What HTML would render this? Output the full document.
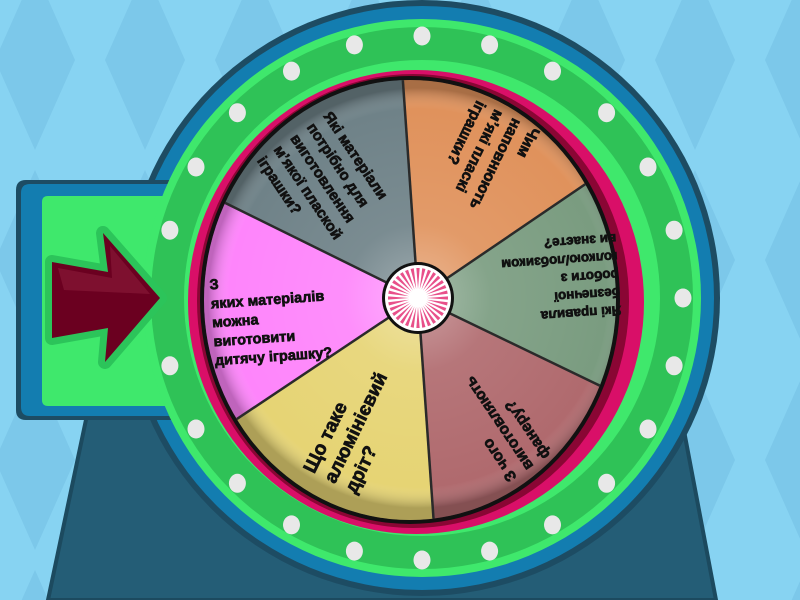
<!DOCTYPE html>
<html><head><meta charset="utf-8"><style>
html,body{margin:0;padding:0;width:800px;height:600px;overflow:hidden;background:#86d2f1}
svg{position:absolute;left:0;top:0}
</style></head><body>
<svg width="800" height="600" viewBox="0 0 800 600" xmlns="http://www.w3.org/2000/svg">
<defs>
<pattern id="bg" width="110" height="200" patternUnits="userSpaceOnUse" x="-20" y="-40">
<rect width="110" height="200" fill="#87d3f2"/>
<polygon points="55,10 95,100 55,190 15,100" fill="#7cc8ea"/>
</pattern>
<clipPath id="wc"><ellipse cx="410" cy="300" rx="206" ry="220"/></clipPath>
<radialGradient id="glow" cx="418" cy="298" r="210" gradientUnits="userSpaceOnUse">
<stop offset="0" stop-color="#fff" stop-opacity="0.35"/>
<stop offset="0.35" stop-color="#fff" stop-opacity="0.08"/>
<stop offset="0.9" stop-color="#fff" stop-opacity="0"/>
<stop offset="1" stop-color="#000" stop-opacity="0.25"/>
</radialGradient>
</defs>
<rect width="800" height="600" fill="url(#bg)"/>
<polygon points="87,415 48,600 716,600 681,415" fill="#245d76" stroke="#1c4a5f" stroke-width="4"/>
<circle cx="422" cy="298" r="298" fill="#1d4c63"/>
<circle cx="422" cy="298" r="292" fill="#137db0"/>
<path d="M26,180 H240 V420 H26 Q16,420 16,410 V190 Q16,180 26,180Z" fill="#1d4c63"/>
<path d="M30,184 H240 V416 H30 Q21,416 21,407 V193 Q21,184 30,184Z" fill="#137db0"/>
<path d="M48,196 H240 V406 H48 Q42,406 42,400 V202 Q42,196 48,196Z" fill="#3fe86c"/>
<circle cx="422" cy="298" r="279" fill="#3fe86c"/>
<circle cx="422" cy="298" r="271" fill="#2fc257"/>
<circle cx="422" cy="298" r="238" fill="#3fe86c"/>
<g fill="#e8e8e8" id="dots"></g>
<ellipse cx="416" cy="302" rx="228" ry="232" fill="#d90f68"/>
<ellipse cx="413" cy="301" rx="216" ry="227" fill="#8a0634"/>
<ellipse cx="410" cy="300" rx="210" ry="224" fill="#111"/>
<g clip-path="url(#wc)">
<path d="M418,298 L58.5,120.7 L390.1,-103Z" fill="#6f8288"/>
<path d="M418,298 L390.1,-103 L749.6,72.4Z" fill="#e0925c"/>
<path d="M418,298 L749.6,72.4 L777.5,471.3Z" fill="#7a9c80"/>
<path d="M418,298 L777.5,471.3 L445.9,695Z" fill="#b06a6e"/>
<path d="M418,298 L445.9,695 L86.4,519.6Z" fill="#e6d474"/>
<path d="M418,298 L86.4,519.6 L58.5,120.7Z" fill="#fe85fb"/>
<rect x="0" y="0" width="800" height="600" fill="url(#glow)"/>
<g stroke="#2a2a2a" stroke-width="2.5">
<line x1="418" y1="298" x2="58.5" y2="120.7"/>
<line x1="418" y1="298" x2="390.1" y2="-103"/>
<line x1="418" y1="298" x2="749.6" y2="72.4"/>
<line x1="418" y1="298" x2="777.5" y2="471.3"/>
<line x1="418" y1="298" x2="445.9" y2="695"/>
<line x1="418" y1="298" x2="86.4" y2="519.6"/>
</g>
</g>
<g style="font-family:'Liberation Sans',sans-serif;font-weight:700" fill="#111" stroke="#111" stroke-width="0.7">
<g transform="rotate(-4 418 298)" font-size="14.5">
<text x="211" y="275">З</text>
<text x="211" y="294">яких матеріалів</text>
<text x="211" y="313">можна</text>
<text x="211" y="332">виготовити</text>
<text x="211" y="351">дитячу іграшку?</text>
</g>
<g transform="rotate(56 418 298)" font-size="15">
<text x="214" y="275">Які матеріали</text>
<text x="214" y="295">потрібно для</text>
<text x="214" y="315">виготовлення</text>
<text x="214" y="335">м’якої плаской</text>
<text x="214" y="355">іграшки?</text>
</g>
<g transform="rotate(116 418 298)" font-size="15.5">
<text x="214" y="272">Чим</text>
<text x="214" y="292">наповнюють</text>
<text x="214" y="312">м’які пласкі</text>
<text x="214" y="332">іграшки?</text>
</g>
<g transform="rotate(176 418 298)" font-size="13.5">
<text x="216" y="276">Які правила</text>
<text x="216" y="294">безпечної</text>
<text x="216" y="312">роботи з</text>
<text x="216" y="330">голкою/лобзиком</text>
<text x="216" y="348">ви знаєте?</text>
</g>
<g transform="rotate(236 418 298)" font-size="15.5">
<text x="214" y="280">З чого</text>
<text x="214" y="300">виготовляють</text>
<text x="214" y="320">фанеру?</text>
</g>
<g transform="rotate(296 418 298)" font-size="19">
<text x="214" y="282">Що таке</text>
<text x="214" y="305">алюмінієвий</text>
<text x="214" y="328">дріт?</text>
</g>
</g>
<circle cx="418" cy="298" r="36" fill="#111"/>
<circle cx="418" cy="298" r="33" fill="#fff"/>
<g id="spokes" fill="#e8508a"></g>
<polygon points="52,262 108,272 103,233 160,298 105,362 108,328 52,338" fill="#2cc45a" stroke="#2cc45a" stroke-width="14" stroke-linejoin="round"/>
<polygon points="52,262 108,272 103,233 160,298 105,362 108,328 52,338" fill="#6b0020"/>
<polygon points="58,268 112,278 110,246 150,294 64,290" fill="#8a1a3a" opacity="0.6"/>
<script>
(function(){
var ns="http://www.w3.org/2000/svg",d=document.getElementById("dots");
for(var i=0;i<24;i++){if(i==12)continue;var a=i*15*Math.PI/180;
var e=document.createElementNS(ns,"ellipse");
e.setAttribute("cx",(422+261*Math.cos(a)).toFixed(1));
e.setAttribute("cy",(298+262*Math.sin(a)).toFixed(1));
e.setAttribute("rx","8.5");e.setAttribute("ry","9.5");d.appendChild(e);}
var s=document.getElementById("spokes");
for(var j=0;j<32;j++){var b=j*2*Math.PI/32,w=0.055;
var p=document.createElementNS(ns,"polygon");
var x1=418+9*Math.cos(b),y1=298+9*Math.sin(b);
var x2=418+30*Math.cos(b-w),y2=298+30*Math.sin(b-w);
var x3=418+30*Math.cos(b+w),y3=298+30*Math.sin(b+w);
p.setAttribute("points",x1+","+y1+" "+x2+","+y2+" "+x3+","+y3);s.appendChild(p);}
})();
</script>
</svg>
</body></html>
